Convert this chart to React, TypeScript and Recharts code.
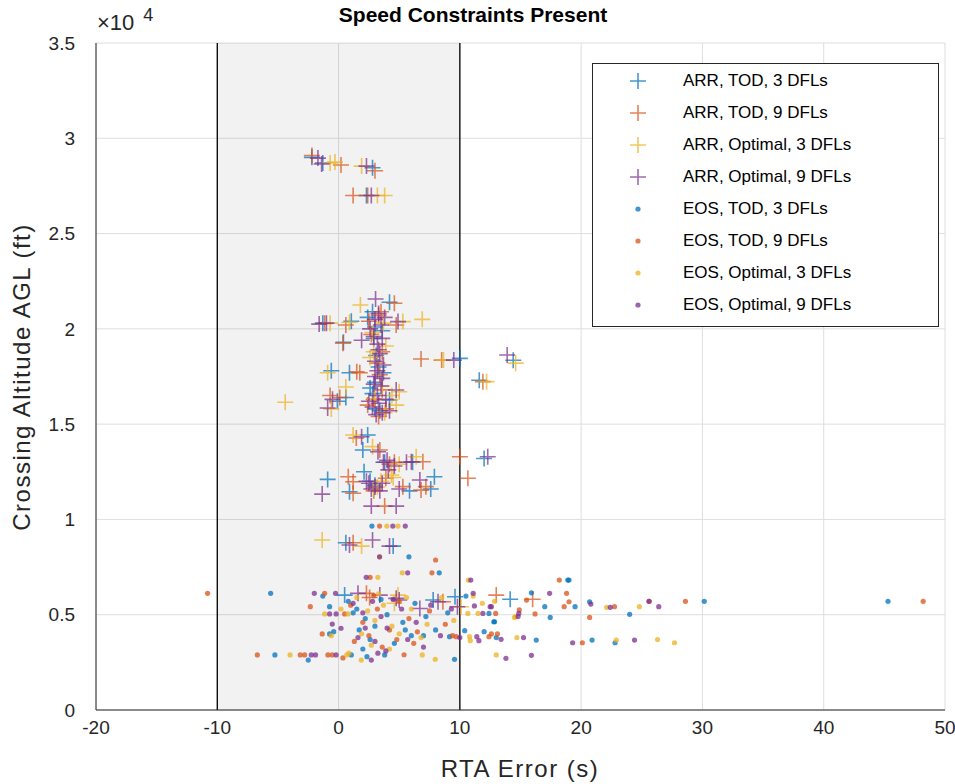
import React from "react";
import {
  ScatterChart,
  Scatter,
  XAxis,
  YAxis,
  CartesianGrid,
  ReferenceArea,
  ReferenceLine,
} from "recharts";

type Pt = [number, number]; // [RTA error (s), altitude (ft)]

const X_TICKS = [-20, -10, 0, 10, 20, 30, 40, 50];
const Y_TICKS = [0, 5000, 10000, 15000, 20000, 25000, 30000, 35000];

// ARR crosses
const ARR_TOD_3: Pt[] = [
  [-2.2, 29000], [-1.3, 28700], [2.8, 28450], [2.3, 27000],
  [4.2, 21400], [-1.3, 20300], [1.05, 20400], [2.4, 20600], [3.0, 20100], [3.6, 19900],
  [2.8, 20900], [0.4, 19300], [3.1, 18600], [3.3, 18000], [10.0, 18450], [14.4, 18350],
  [11.6, 17300], [-0.6, 17800], [0.9, 17700], [3.0, 17200], [-0.1, 16200], [0.6, 16400],
  [4.2, 16270], [2.8, 16600], [3.4, 15700], [2.6, 16900], [2.9, 19500], [3.7, 17700],
  [3.0, 15800],
  [2.4, 14430], [2.0, 13640], [3.8, 13000], [6.1, 13000], [12.0, 13200], [-0.9, 12100],
  [2.1, 12500], [0.9, 11450], [7.9, 12240], [7.6, 11600], [5.85, 11500], [3.0, 11800],
  [2.6, 12000], [0.6, 8780], [4.5, 8600],
  [0.5, 6030], [7.8, 5770], [9.6, 5940], [14.15, 5810],
];

const ARR_TOD_9: Pt[] = [
  [-2.2, 29100], [0.2, 28600], [3.0, 28300], [1.2, 27000], [2.4, 27000],
  [4.6, 21340], [-1.15, 20290], [0.6, 20200], [2.5, 20400], [3.3, 20700], [4.75, 20200],
  [0.36, 19250], [6.8, 18420], [8.5, 18360], [11.9, 17230], [1.5, 17750], [1.75, 17700],
  [3.2, 18200], [-0.7, 16500], [0.1, 16400], [3.6, 16800], [2.4, 16000], [3.9, 15800],
  [3.5, 20900], [2.7, 19700], [3.6, 18800], [3.4, 17600], [2.9, 16300], [3.3, 15400],
  [1.46, 14270], [3.4, 13640], [4.2, 12900], [6.95, 13030], [10.0, 13290], [10.66, 12160],
  [0.8, 12240], [1.2, 11980], [1.2, 11370], [3.9, 12160], [7.2, 11720], [6.8, 11540],
  [5.3, 11720], [3.8, 10700], [2.9, 11500], [4.6, 13000], [1.2, 8780],
  [2.3, 6120], [2.56, 5900], [8.6, 5680], [13.0, 6030], [16.0, 5810],
];

const ARR_OPT_3: Pt[] = [
  [-0.7, 28700], [-0.3, 28750], [1.9, 28540], [3.2, 27000], [3.8, 27000],
  [1.8, 21250], [-0.7, 20300], [0.9, 20350], [5.3, 20380], [6.9, 20500], [2.8, 19800],
  [3.9, 19100], [8.65, 18360], [14.6, 18200], [12.2, 17230], [-0.9, 17700], [-4.4, 16150],
  [0.6, 16950], [-0.6, 15800], [5.0, 16700], [4.75, 16000], [3.0, 16300], [2.9, 18800],
  [3.7, 20300], [2.6, 18500], [3.6, 17000], [3.8, 15600], [4.4, 16500],
  [1.2, 14430], [2.8, 13820], [6.4, 13290], [5.0, 12900], [4.35, 12330], [2.9, 11600],
  [3.5, 12000], [3.2, 11700], [4.5, 12200], [-1.35, 8920], [1.9, 8600],
  [4.9, 6030], [4.6, 5600], [10.1, 5420],
];

const ARR_OPT_9: Pt[] = [
  [-1.7, 28960], [-1.4, 28650], [2.3, 28540], [2.7, 27000],
  [3.05, 21570], [-1.6, 20250], [-1.0, 20300], [4.9, 20380], [3.0, 20500], [2.6, 20000],
  [3.5, 20200], [1.9, 19400], [3.2, 19200], [3.4, 18700], [9.5, 18360], [13.9, 18630],
  [3.0, 17500], [3.5, 17000], [-0.5, 16300], [-0.9, 15850], [4.75, 16790], [3.2, 16500],
  [2.8, 15900], [3.6, 15600], [2.5, 16200], [3.3, 20800], [3.8, 20600], [2.9, 19600],
  [3.6, 19500], [3.3, 18900], [3.0, 18300], [3.7, 18100], [3.2, 17800], [3.6, 17400],
  [2.9, 17100], [3.3, 16100], [3.9, 16300], [3.1, 15500], [4.2, 15700],
  [1.9, 14340], [3.25, 13550], [4.0, 13100], [4.6, 12800], [5.6, 13000], [6.0, 13030],
  [12.3, 13290], [-1.35, 11330], [2.5, 11900], [3.0, 11700], [3.4, 11500], [6.7, 12070],
  [5.0, 11600], [2.7, 10700], [4.75, 10700], [2.7, 11600], [3.6, 11900], [2.3, 12000],
  [4.1, 12600], [3.7, 13000], [2.8, 8920], [4.2, 8600], [0.9, 8660],
  [1.6, 6120], [3.4, 6030], [4.75, 5860], [5.0, 5770], [6.7, 5330], [8.2, 5680], [9.8, 5420],
];

// EOS dots
const EOS_TOD_3: Pt[] = [
  [-5.6, 6120], [-1.3, 5980], [-0.74, 5420], [1.2, 5100], [-0.74, 3990], [-0.4, 4110],
  [-5.25, 2890], [1.05, 2890], [-2.5, 2620], [2.34, 2800], [3.8, 2890], [2.75, 9650],
  [5.8, 8040], [8.3, 7200], [10.5, 5980], [12.4, 5070], [12.8, 4630], [12.0, 4110],
  [9.15, 3850], [9.56, 2660], [15.9, 6150], [18.9, 6820], [17.0, 5420], [17.45, 4860],
  [12.86, 4630], [13.0, 3800], [16.3, 3670], [19.0, 6820], [20.7, 5680], [19.5, 5420],
  [24.0, 5020], [20.9, 3670], [22.8, 3530], [30.15, 5700], [45.3, 5700], [10.4, 4160],
  [0.8, 5700], [1.5, 5300], [2.2, 4800], [3.0, 4400], [2.6, 3700], [4.0, 5000], [5.3, 4600],
  [6.3, 5600], [7.2, 4900], [8.0, 4200], [6.0, 3900], [3.5, 5800], [4.6, 3500], [1.7, 4200],
  [2.0, 3200], [7.0, 3900], [5.5, 4200], [9.0, 5100],
];

const EOS_TOD_9: Pt[] = [
  [-10.8, 6120], [-1.15, 6120], [-2.33, 5420], [0.5, 5040], [-1.35, 3990], [-6.7, 2890],
  [-2.8, 2890], [-0.88, 2890], [-0.52, 2890], [0.36, 2730], [2.6, 6960], [3.38, 9650],
  [8.0, 7870], [7.7, 7200], [9.7, 3850], [12.4, 3850], [13.1, 3990], [12.95, 5070],
  [14.9, 5250], [16.2, 5040], [15.5, 5770], [18.2, 6820], [18.8, 6120], [19.0, 5680],
  [18.6, 5420], [12.6, 3990], [20.1, 3530], [20.7, 4860], [22.75, 5420], [25.6, 5700],
  [28.6, 5700], [48.2, 5700], [-3.16, 2890],
  [1.0, 5500], [2.0, 4600], [3.2, 5300], [2.5, 3900], [4.2, 4200], [5.0, 5700], [5.8, 4800],
  [6.5, 4100], [7.5, 5200], [3.6, 3300], [1.3, 3600], [4.8, 3700], [8.8, 4500], [6.2, 3500],
  [2.9, 6000], [9.4, 3900], [5.4, 2900],
];

const EOS_OPT_3: Pt[] = [
  [3.24, 6960], [-1.15, 5040], [0.77, 5040], [-0.6, 3900], [-4.0, 2890], [0.68, 2890],
  [0.85, 2980], [1.87, 2620], [3.98, 9650], [4.9, 9650], [3.38, 8040], [5.25, 7200],
  [10.7, 6820], [11.1, 5980], [11.85, 5600], [12.86, 5700], [10.66, 5070], [11.5, 5070],
  [14.6, 4900], [10.8, 3850], [10.86, 3640], [14.7, 3800], [13.0, 2890], [7.97, 2660],
  [14.5, 4860], [22.1, 5390], [24.8, 5420], [22.9, 3670], [26.3, 3700], [27.7, 3530],
  [1.5, 5900], [2.4, 5200], [3.0, 4700], [3.7, 5500], [4.4, 4400], [1.9, 4000], [2.7, 3400],
  [5.0, 4000], [6.0, 5300], [7.3, 4500], [8.5, 5900], [4.2, 3200], [6.8, 3800], [5.6, 5900],
  [9.5, 4700], [3.3, 6100], [0.2, 5300], [6.9, 2890],
];

const EOS_OPT_9: Pt[] = [
  [2.28, 6960], [-2.0, 6120], [-0.25, 6120], [-0.74, 5040], [-0.2, 5040], [-0.52, 4510],
  [0.2, 4290], [-2.25, 2890], [-1.9, 2890], [-0.2, 2890], [2.7, 2620], [3.24, 2980],
  [4.47, 9650], [5.5, 9650], [3.38, 8040], [5.7, 7200], [10.9, 6820], [11.1, 6120],
  [11.2, 5460], [12.5, 5420], [11.9, 5070], [14.8, 4900], [11.4, 3850], [11.57, 3640],
  [13.4, 3710], [10.0, 3800], [13.8, 2710], [17.4, 6120], [12.6, 5420], [14.86, 5070],
  [15.25, 3800], [15.9, 2870], [19.3, 3530], [20.8, 5560], [22.4, 5390], [25.6, 5700],
  [26.4, 5420], [24.4, 3670],
  [1.2, 5600], [2.0, 5100], [2.8, 5700], [3.5, 4900], [4.0, 4300], [1.6, 3800], [3.0, 3600],
  [5.2, 5300], [6.4, 4600], [7.6, 5500], [8.4, 3900], [4.5, 5800], [2.2, 4300], [5.7, 3700],
  [7.0, 3300], [9.3, 5300], [3.9, 3100],
];

const BLUE = "#0072BD";
const ORANGE = "#D95319";
const YELLOW = "#EDB120";
const PURPLE = "#7E2F8E";

const SERIES = [
  { name: "ARR, TOD, 3 DFLs", data: ARR_TOD_3, color: BLUE, cross: true },
  { name: "ARR, TOD, 9 DFLs", data: ARR_TOD_9, color: ORANGE, cross: true },
  { name: "ARR, Optimal, 3 DFLs", data: ARR_OPT_3, color: YELLOW, cross: true },
  { name: "ARR, Optimal, 9 DFLs", data: ARR_OPT_9, color: PURPLE, cross: true },
  { name: "EOS, TOD, 3 DFLs", data: EOS_TOD_3, color: BLUE, cross: false },
  { name: "EOS, TOD, 9 DFLs", data: EOS_TOD_9, color: ORANGE, cross: false },
  { name: "EOS, Optimal, 3 DFLs", data: EOS_OPT_3, color: YELLOW, cross: false },
  { name: "EOS, Optimal, 9 DFLs", data: EOS_OPT_9, color: PURPLE, cross: false },
];

const FONT = '"Liberation Sans", Arial, Helvetica, sans-serif';
const INK = "#262626";

const crossShape = (color: string) => (p: any) => (
  <path
    d={`M${p.cx - 8},${p.cy}H${p.cx + 8}M${p.cx},${p.cy - 8}V${p.cy + 8}`}
    stroke={color}
    strokeWidth={1.6}
    strokeOpacity={0.72}
    fill="none"
  />
);

const dotShape = (color: string) => (p: any) => (
  <circle cx={p.cx} cy={p.cy} r={2.6} fill={color} fillOpacity={0.75} />
);

function LegendBox() {
  return (
    <div
      style={{
        position: "absolute",
        left: 592,
        top: 63,
        width: 347,
        height: 264,
        border: "1px solid #262626",
        background: "#fff",
        boxSizing: "border-box",
        paddingTop: 1,
      }}
    >
      {SERIES.map((s) => (
        <div key={s.name} style={{ height: 32, display: "flex", alignItems: "center" }}>
          <svg width={90} height={20} style={{ flex: "none" }}>
            {s.cross ? (
              <path d="M37,10H53M45,2V18" stroke={s.color} strokeWidth={1.6} strokeOpacity={0.72} />
            ) : (
              <circle cx={45} cy={10} r={2.6} fill={s.color} fillOpacity={0.75} />
            )}
          </svg>
          <span style={{ fontSize: 17, color: "#000" }}>{s.name}</span>
        </div>
      ))}
    </div>
  );
}

export default function App() {
  return (
    <div style={{ position: "relative", width: 955, height: 784, background: "#fff", fontFamily: FONT }}>
      <style>{"body{margin:0}"}</style>
      <ScatterChart width={955} height={784} margin={{ top: 43, right: 10, bottom: 14, left: 0 }}>
        <CartesianGrid stroke="#dedede" />
        <ReferenceArea x1={-10} x2={10} y1={0} y2={35000} fill="#000" fillOpacity={0.05} stroke="none" />
        <XAxis
          type="number"
          dataKey="x"
          domain={[-20, 50]}
          ticks={X_TICKS}
          height={60}
          allowDataOverflow
          axisLine={{ stroke: INK }}
          tickLine={false}
          tickMargin={5}
          tick={{ fill: INK, fontSize: 19, fontFamily: FONT }}
          label={{
            content: () => (
              <text
                x={520}
                y={768}
                textAnchor="middle"
                dominantBaseline="central"
                fill={INK}
                fontSize={24}
                letterSpacing={1.5}
                fontFamily={FONT}
              >
                RTA Error (s)
              </text>
            ),
          }}
        />
        <YAxis
          type="number"
          dataKey="y"
          domain={[0, 35000]}
          ticks={Y_TICKS}
          width={96}
          allowDataOverflow
          axisLine={{ stroke: INK }}
          tickLine={false}
          tickMargin={15}
          tickFormatter={(v: number) => String(v / 10000)}
          tick={{ fill: INK, fontSize: 19, fontFamily: FONT }}
          label={{
            content: () => (
              <text
                x={21}
                y={377}
                transform="rotate(-90, 21, 377)"
                textAnchor="middle"
                dominantBaseline="central"
                fill={INK}
                fontSize={24}
                letterSpacing={1.5}
                fontFamily={FONT}
              >
                Crossing Altitude AGL (ft)
              </text>
            ),
          }}
        />
        <ReferenceLine x={-10} stroke="#000" strokeWidth={1.3} />
        <ReferenceLine x={10} stroke="#000" strokeWidth={1.3} />
        {SERIES.map((s) => (
          <Scatter
            key={s.name}
            name={s.name}
            data={s.data.map(([x, y]) => ({ x, y }))}
            shape={s.cross ? crossShape(s.color) : dotShape(s.color)}
            isAnimationActive={false}
          />
        ))}
      </ScatterChart>
      <div
        style={{
          position: "absolute",
          left: 0,
          width: 946,
          top: 3,
          textAlign: "center",
          fontWeight: "bold",
          fontSize: 21,
          color: "#000",
        }}
      >
        Speed Constraints Present
      </div>
      <div style={{ position: "absolute", left: 97, top: 6, fontSize: 22, color: INK, whiteSpace: "nowrap" }}>
        ×10<sup style={{ fontSize: 18, marginLeft: 9, position: "relative", top: -1 }}>4</sup>
      </div>
      <LegendBox />
    </div>
  );
}
